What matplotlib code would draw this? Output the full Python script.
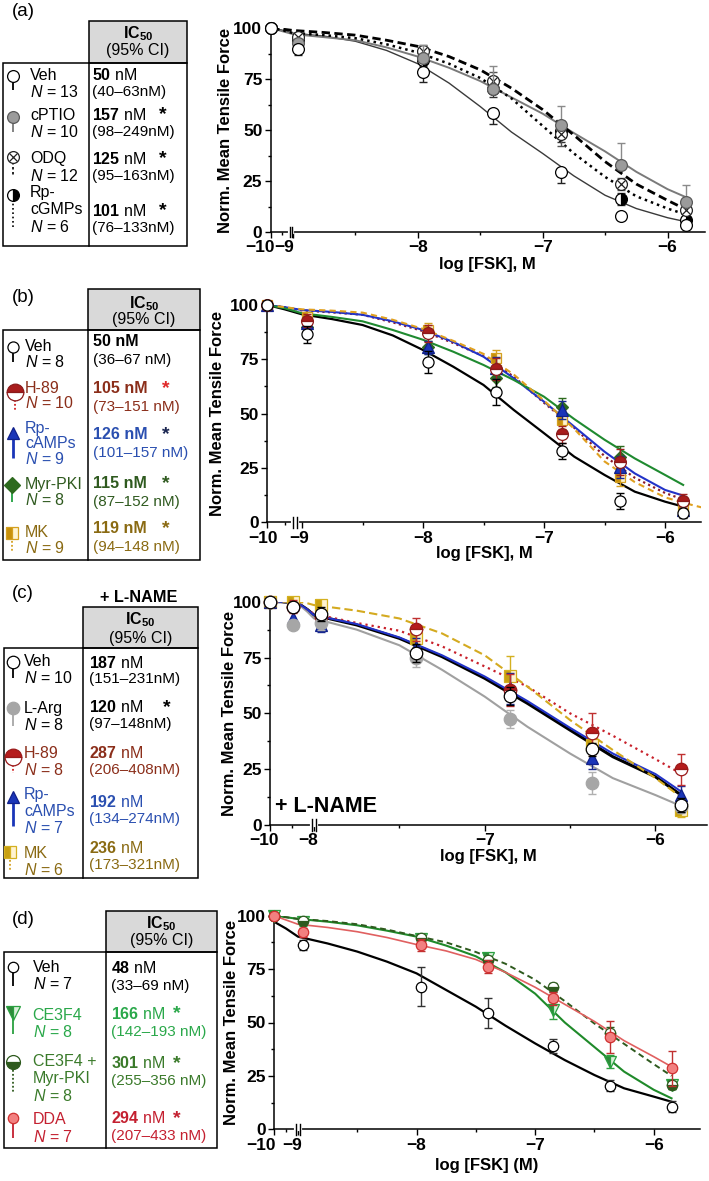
import numpy as np
import matplotlib
matplotlib.use("Agg")
import matplotlib.pyplot as plt
from matplotlib.patches import Rectangle
from matplotlib.transforms import ScaledTranslation

plt.rcParams.update({
    "font.family": ["Liberation Sans", "DejaVu Sans"],
    "mathtext.fontset": "custom",
    "mathtext.rm": "Liberation Sans",
    "mathtext.it": "Liberation Sans:italic",
    "mathtext.bf": "Liberation Sans:bold",
    "axes.unicode_minus": True,
})

W, H = 709, 1181
nan = np.nan

# log [FSK] of the measured points (first one is the 100 % reference)
X_PTS = [-10, -8.96, -7.96, -7.4, -6.85, -6.37, -5.85]

# ---------------- panel (a) ----------------
A_NAMES = ["Veh", "cPTIO", "ODQ", "Rp-\ncGMPs"]
A_N = [13, 10, 12, 6]
A_IC50 = [50, 157, 125, 101]
A_CI = [(40, 63), (98, 249), (95, 163), (76, 133)]
A_SIG = [False, True, True, True]
A_MEAN = [
    [100, 89.7, 78.3, 58.3, 29.4, 7.7, 3.3],
    [100, 92.6, 85.3, 70.0, 52.6, 33.0, 14.7],
    [100, 95.6, 88.6, 74.2, 48.2, 23.5, 10.6],
    [100, 93.5, 84.5, 70.0, 49.3, 16.3, 6.0],
]
A_SEM = [
    [0, 3, 5, 5.3, 5.4, 1.5, 1.5],
    [0, 2, 6.5, 11.5, 9, 10.5, 8.5],
    [0, 2, 3, 4, 6, 3, 2],
    [0, 2, 3, 4, 5, 3, 2],
]
A_ERRDIR = ["down", "up", "both", "both"]
A_CURVE_X = [-10, -9.5, -9, -8.75, -8.5, -8.25, -8, -7.75, -7.5, -7.25, -7, -6.75, -6.5,
             -6.25, -6, -5.85]
A_CURVES = [
    [100, 99, 97.5, 96, 93.5, 89, 82.5, 73, 61.5, 49, 38.5, 27.5, 18, 11.5, 7, 5],
    [100, 98.5, 97, 95.5, 94, 90.5, 86, 80.5, 74, 66, 58, 48.5, 39.5, 29.5, 21, 17],
    [100, 99.5, 98.8, 97.8, 96.5, 94, 91, 86, 79.5, 70.5, 60, 47.5, 34.5, 23.5, 15.5, 11],
    [100, 99, 97.5, 96.5, 95, 92, 88, 82.5, 75.5, 65.5, 52, 38.5, 27, 17.5, 11.5, 8.5],
]

# ---------------- panel (b) ----------------
B_NAMES = ["Veh", "H-89", "Rp-\ncAMPs", "Myr-PKI", "MK"]
B_N = [8, 10, 9, 8, 9]
B_IC50 = [50, 105, 126, 115, 119]
B_CI = [(36, 67), (73, 151), (101, 157), (87, 152), (94, 148)]
B_SIG = [False, True, True, True, True]
B_MEAN = [
    [100, 86.5, 73.9, 59.8, 32.8, 9.8, 4.1],
    [100, 92.8, 87.0, 70.6, 40.5, 27.6, 9.8],
    [100, 91.6, 80.5, 70.9, 51.7, 25.3, 5.7],
    [100, 90.0, 80.5, 66.3, 53.2, 30.0, 8.7],
    [100, 94.6, 88.5, 75.5, 47.0, 20.7, 7.2],
]
B_SEM = [
    [0, 4, 5, 6, 3.8, 3.8, 2],
    [0, 3, 4, 5, 4, 6, 3],
    [0, 3, 3, 5, 4, 5, 2],
    [0, 2, 3, 4, 4, 5, 3],
    [0, 2, 3, 4, 4, 4, 2],
]
B_ERRDIR = ["both"] * 5
B_CURVE_X = [-10, -9.5, -9, -8.75, -8.5, -8.25, -8, -7.75, -7.5, -7.25, -7, -6.75, -6.5,
             -6.25, -6, -5.85, -5.7]
B_CURVES = [
    [100, 98, 95.7, 93.5, 90.8, 86, 79.3, 71.6, 63.2, 51.7, 41, 30.2, 21.8, 14.1, 9.5, 7.2, nan],
    [100, 99, 97.5, 96.6, 95.5, 92, 88, 82.5, 76.5, 67, 55, 43.5, 30.5, 20.5, 13.5, 10.5, nan],
    [100, 99, 97.7, 96.8, 95.5, 92.5, 88.5, 83, 76.2, 66.3, 55.5, 44, 32.5, 22.5, 14.9, 12.3, nan],
    [100, 98.5, 96.2, 94.5, 92.5, 88.5, 84, 78.5, 72.4, 65.5, 57.8, 47.5, 38, 29.4, 21.8, 17.2, nan],
    [100, 99, 98, 97.4, 96.5, 93.2, 89, 83.5, 77.5, 68, 56, 43, 28, 18.5, 11.5, 9, 6.9],
]

# ---------------- panel (c) ----------------
C_NAMES = ["Veh", "L-Arg", "H-89", "Rp-\ncAMPs", "MK"]
C_N = [10, 8, 8, 7, 6]
C_IC50 = [187, 120, 287, 192, 236]
C_CI = [(151, 231), (97, 148), (206, 408), (134, 274), (173, 321)]
C_SIG = [False, True, False, False, False]
C_MEAN = [
    [100, 97.8, 94.5, 77.2, 57.8, 33.9, 9.0],
    [100, 89.6, 90.3, 74.6, 47.3, 18.7, 8.2],
    [100, 97.8, 93.3, 87.6, 60.4, 41.0, 25.0],
    [100, 92.5, 89.6, 79.9, 61.2, 29.9, 13.4],
    [100, 100, 98.5, 83.6, 66.7, 35.8, 6.7],
]
C_SEM = [
    [0, 2, 3, 4, 4, 3, 3],
    [0, 2, 3, 4, 4, 5, 3],
    [0, 3, 3, 5, 7, 9, 7],
    [0, 3, 3, 4, 7, 5, 4],
    [0, 2, 2, 4, 9, 4, 3],
]
C_ERRDIR = ["both"] * 5
C_CURVE_X = [-10, -9.5, -9, -8.6, -8.3, -8, -7.75, -7.5, -7.25, -7, -6.75, -6.5, -6.25, -6, -5.85]
C_CURVES = [
    [100, 100, 99.5, 98.5, 96.5, 94, 89.6, 83.6, 75.4, 65.7, 54.5, 42.5, 30.6, 21.6, 13.4],
    [100, 100, 99.5, 98, 95.5, 92.5, 87.5, 80.5, 69.5, 57.5, 44, 32, 21, 13.4, 8.5],
    [100, 100, 99.5, 98.5, 96.5, 94.5, 90.5, 87, 80, 71, 62, 50, 40, 29.5, 23],
    [100, 100, 99.5, 98.5, 96.5, 94, 90, 84, 76, 66.5, 55.5, 43.5, 32, 22.8, 15],
    [100, 100, 100, 99.8, 99.3, 98.5, 96, 92.5, 85.8, 76, 62, 47, 33.6, 21, 12.5],
]

# ---------------- panel (d) ----------------
D_NAMES = ["Veh", "CE3F4", "CE3F4 +\nMyr-PKI", "DDA"]
D_N = [7, 8, 8, 7]
D_IC50 = [48, 166, 301, 294]
D_CI = [(33, 69), (142, 193), (255, 356), (207, 433)]
D_SIG = [False, True, True, True]
D_MEAN = [
    [100, 86.3, 66.8, 54.3, 39.0, 20.4, 10.6],
    [100, 96.9, 88.9, 80.0, 55.8, 31.7, 20.7],
    [100, 97.5, 89.4, 79.2, 66.5, 44.9, 20.7],
    [100, 92.2, 86.3, 76.1, 61.3, 43.4, 28.5],
]
D_SEM = [
    [0, 2.5, 9, 7, 3.5, 2.5, 2.5],
    [0, 1.5, 2, 2, 4, 3, 2],
    [0, 1.5, 2, 2, 2, 3, 2],
    [0, 2, 3, 3, 3, 7.5, 8],
]
D_ERRDIR = ["both"] * 4
D_CURVE_X = [-10, -9.5, -9, -8.75, -8.5, -8.25, -8, -7.75, -7.5, -7.25, -7, -6.75, -6.5,
             -6.25, -6, -5.85]
D_CURVES = [
    [97.2, 94, 90.2, 87, 83.2, 78.5, 73, 65.2, 57.4, 48.5, 40.2, 32.4, 25.4, 19.2, 15.3, 12.9],
    [100, 99.3, 98.5, 97.2, 95.5, 93, 90.2, 86, 81, 73.5, 63.5, 50, 38.5, 27, 18.5, 14.5],
    [100, 99.3, 98.5, 97.5, 96, 93.5, 90.5, 87.5, 83, 77.5, 70, 60, 49.5, 40, 30.5, 25],
    [100, 98, 96, 94.5, 92.5, 89.8, 86.5, 83.5, 79.5, 73.5, 66.5, 58.5, 50.5, 41.5, 34, 29.3],
]

# ---------------- styles ----------------
DOT = (0, (1, 1.6))
A_STYLES = [
    dict(m="o", ms=8.5, mfc="white", mec="black", lc="#3a3a3a", ls="-", lw=1.0, ec="#222", gc="black"),
    dict(m="o", ms=8.5, mfc="#9b9b9b", mec="#5a5a5a", lc="#7a7a7a", ls="-", lw=1.4, ec="#8a8a8a",
         gc="#7a7a7a"),
    dict(m="o", ms=8.5, mfc="white", mec="#222", ov=("x", 5.5, "#222"), lc="black",
         ls=(0, (3, 1.6)), lw=2.0, ec="#555", gls=(0, (1.5, 1.5)), glw=1.2, gc="black"),
    dict(m="o", ms=8.5, mfc="black", alt="white", fs="right", mec="black", lc="black",
         ls=DOT, lw=1.8, ec="#333", glw=1.2, gc="black"),
]
B_STYLES = [
    dict(m="o", ms=8, mfc="white", mec="black", lc="black", ls="-", lw=1.6, ec="black", gc="black"),
    dict(m="o", ms=8.5, fs="top", mfc="#a81c1c", alt="white", mec="#8b1a1a", lc="#8b1a2a",
         ls=(0, (1, 1.5)), lw=1.6, ec="#a02020", gc="#d02020", gms=12, gls=(0, (1, 1.2))),
    dict(m="^", ms=8, mfc="#1a35b8", mec="#10208a", lc="#2233c8", ls="-", lw=1.5,
         ec="#1a2a90", gc="#1a35b8", glw=2.0, gms=9),
    dict(m="D", ms=6.5, mfc="#2d6a1e", mec="#2d6a1e", lc="#1f8a30", ls="-", lw=1.5,
         ec="#2d6a1e", gc="#20a040", gms=8),
    dict(m="s", ms=7.5, fs="left", mfc="#c8900a", alt="#fff3d0", mec="#d4a020", lc="#e0a020",
         ls=(0, (3, 2)), lw=1.5, ec="#d4a020", gc="#d4a020", gls=(0, (1, 1.2)), gms=8),
]
C_STYLES = [
    dict(m="o", ms=9, mfc="white", mec="black", lc="black", ls="-", lw=2.2, ec="black",
         gc="black", glw=1.3),
    dict(m="o", ms=9, mfc="#a6a6a6", mec="#a6a6a6", lc="#a0a0a0", ls="-", lw=1.5, ec="#b0b0b0",
         gc="#a6a6a6"),
    dict(m="o", ms=9, fs="top", mfc="#b51c1c", alt="white", mec="#9a1a1a", lc="#c8202a",
         ls=(0, (1, 1.8)), lw=1.6, ec="#c03030", gc="#d02020", gms=12, gls=(0, (1, 1.2))),
    dict(m="^", ms=8.5, mfc="#1a35b8", mec="#10208a", lc="#2233c8", ls="-", lw=1.5,
         ec="#1a2a90", gc="#1a35b8", glw=2.0, gms=9),
    dict(m="s", ms=8, fs="left", mfc="#c8a010", alt="#fff3d0", mec="#d4b020", lc="#d4aa20",
         ls=(0, (4, 2)), lw=1.5, ec="#d4b020", gc="#d4a020", gls=(0, (1, 1.2)), gms=8),
]
D_STYLES = [
    dict(m="o", ms=7.5, mfc="white", mec="black", lc="black", ls="-", lw=1.6, ec="#333", gc="black"),
    dict(m="v", ms=8, fs="left", mfc="#2f8a3a", alt="#d9f0d9", mec="#2aa040", lc="#1f8a2a",
         ls="-", lw=1.5, ec="#30a040", gc="#2aa040", gms=10),
    dict(m="o", ms=7.5, fs="bottom", mfc="#2e5a1e", alt="white", mec="#2e5a1e", lc="#2e5a1e",
         ls=(0, (3, 2)), lw=1.4, ec="#2e5a1e", gc="#2e5a1e", gls=(0, (1, 1.2)), gms=10),
    dict(m="o", ms=7.5, mfc="#f28080", mec="#d03030", lc="#e06060", ls="-", lw=1.2,
         ec="#c03030", gc="#c42030"),
]

A_COLORS = ["black"] * 4
A_STARS = ["black"] * 4
B_COLORS = ["black", "#8b2e1a", "#2a4fb0", "#2f5a1f", "#8a6a12"]
B_STARS = ["black", "#e02828", "#1a2550", "#2f5a1f", "#8a6a12"]
C_COLORS = ["black", "black", "#8b2e1a", "#2a4fb0", "#8a6a12"]
C_STARS = C_COLORS
D_COLORS = ["black", "#2aa84a", "#3a7a2a", "#c42030"]
D_STARS = D_COLORS


def marker_kw(st, size=None):
    return dict(marker=st["m"], ms=size or st["ms"], mfc=st["mfc"], mec=st["mec"],
                mew=st.get("mew", 0.9), fillstyle=st.get("fs", "full"),
                markerfacecoloralt=st.get("alt", "none"))


def broken_scale(brk, k):
    def fwd(x):
        x = np.asarray(x, dtype=float)
        return np.where(x < brk, brk + (x - brk) * k, x)

    def inv(t):
        t = np.asarray(t, dtype=float)
        return np.where(t < brk, brk + (t - brk) / k, t)
    return fwd, inv


fig = plt.figure(figsize=(W / 100, H / 100), dpi=100)
lay = fig.add_axes([0, 0, 1, 1])
lay.set_xlim(0, W)
lay.set_ylim(H, 0)
lay.axis("off")


def draw_table(L, names, ns, ic50, ci, sig, colors, stars, styles):
    hx0, hy0, hx1, hy1 = L["head"]
    bx0, by1 = L["body"]
    lay.add_patch(Rectangle((hx0, hy0), hx1 - hx0, hy1 - hy0, facecolor="#d9d9d9",
                            edgecolor="black", lw=1.1))
    lay.add_patch(Rectangle((bx0, hy1), hx1 - bx0, by1 - hy1, facecolor="none",
                            edgecolor="black", lw=1.1))
    lay.plot([hx0, hx0], [hy1, by1], color="black", lw=1.1)
    cx = (hx0 + hx1) / 2
    lay.text(cx, L["hdr_y"][0], r"$\mathbf{IC_{50}}$", fontsize=11.5, ha="center", va="center")
    lay.text(cx, L["hdr_y"][1], "(95% CI)", fontsize=11.5, ha="center", va="center")
    lay.text(*L["tag_xy"], L["tag"], fontsize=13.5, ha="center", va="center")
    for i, name in enumerate(names):
        lines = name.split("\n") + [f"$N$ = {ns[i]}"]
        for j, line in enumerate(lines):
            lay.text(L["name_x"], L["name_y"][i] + j * L["name_dy"], line, color=colors[i],
                     fontsize=11.5, ha="left", va="center")
        if L["all_bold"]:
            lay.text(L["ic_x"], L["ic_y"][i], f"{ic50[i]} nM", color=colors[i],
                     fontsize=11.5, fontweight="bold", ha="left", va="center")
        else:
            lay.text(L["ic_x"], L["ic_y"][i], rf"$\mathbf{{{ic50[i]}}}$ nM", color=colors[i],
                     fontsize=11.5, ha="left", va="center")
        lay.text(L["ic_x"], L["ic_y"][i] + L["ci_dy"], L["ci_fmt"].format(*ci[i]),
                 color=colors[i], fontsize=11, ha="left", va="center")
        if sig[i]:
            lay.text(L["star_x"], L["ic_y"][i], "*", color=stars[i], fontsize=14,
                     fontweight="bold", ha="left", va="center")
        st = styles[i]
        gx, gy, ge = L["glyph_x"][i], L["glyph_y"][i], L["stem_end"][i]
        lay.plot([gx, gx], [gy, ge], color=st["gc"], ls=st.get("gls", st["ls"]),
                 lw=st.get("glw", 1.3), solid_capstyle="butt")
        lay.plot([gx], [gy], ls="none", **marker_kw(st, st.get("gms")))
        if st.get("ov"):
            m, s, c = st["ov"]
            lay.plot([gx], [gy], ls="none", marker=m, ms=s, color=c, mew=0.9)


def draw_plot(P, means, sems, dirs, curve_x, curves, styles):
    l, t, r, b = P["box"]
    ax = fig.add_axes([l / W, 1 - b / H, (r - l) / W, (b - t) / H])
    fwd, inv = broken_scale(P["brk"], P["k"])
    ax.set_xscale("function", functions=(fwd, inv))
    for cy, st in zip(curves, styles):
        ax.plot(curve_x, cy, color=st["lc"], ls=st["ls"], lw=st["lw"], zorder=2)
    z = 3
    for i in P["order"]:
        st = styles[i]
        lo = [e if dirs[i] in ("both", "down") else 0 for e in sems[i]]
        hi = [e if dirs[i] in ("both", "up") else 0 for e in sems[i]]
        ax.errorbar(X_PTS, means[i], yerr=[lo, hi], fmt="none", ecolor=st["ec"],
                    elinewidth=1, capsize=3, capthick=1, zorder=z, clip_on=False)
        ax.plot(X_PTS, means[i], ls="none", zorder=z + 0.5, clip_on=False, **marker_kw(st))
        if st.get("ov"):
            m, s, c = st["ov"]
            ax.plot(X_PTS, means[i], ls="none", marker=m, ms=s, color=c, mew=0.9,
                    zorder=z + 0.6, clip_on=False)
        z += 1
    ax.set_xlim(-10, P["xmax"])
    ax.set_ylim(0, 100)
    ax.set_xticks(P["major"])
    ax.set_xticklabels([str(v).replace("-", "\u2212") for v in P["major"]], fontweight="bold")
    ax.set_xticks(P["minor"], minor=True)
    ax.set_yticks([0, 25, 50, 75, 100])
    ax.set_yticklabels(["0", "25", "50", "75", "100"], fontweight="bold")
    ax.set_yticks([12.5, 37.5, 62.5, 87.5], minor=True)
    ax.tick_params(which="major", length=4, width=1, labelsize=12.5, pad=2)
    ax.tick_params(which="minor", length=2.5, width=1)
    # Prism-style: the crowded labels near the axis break sit a bit to the left
    for lab, dx in zip(ax.get_xticklabels(), P["tick_dx"]):
        lab.set_transform(lab.get_transform() + ScaledTranslation(dx / 100, 0, fig.dpi_scale_trans))
    for s in ("top", "right"):
        ax.spines[s].set_visible(False)
    for s in ("left", "bottom"):
        ax.spines[s].set_linewidth(1.1)
    ax.patch.set_alpha(0)
    ax.set_ylabel("Norm. Mean Tensile Force", fontsize=12, fontweight="bold")
    ax.yaxis.set_label_coords((P["ylab_px"] - l) / (r - l), 0.5)
    ax.set_xlabel(P["xlabel"], fontsize=12, fontweight="bold")
    ax.xaxis.set_label_coords(0.5, -P["xlab_off"] / (b - t))
    tr = ax.get_xaxis_transform()
    ax.plot(P["breaks"], [0, 0], color="white", lw=3, transform=tr, clip_on=False, zorder=20)
    for bx in P["breaks"]:
        ax.plot([bx, bx], [-0.025, 0.025], color="black", lw=1, transform=tr,
                clip_on=False, zorder=21)
    return ax


# ---------------- layouts (pixel coordinates) ----------------
A_TAB = dict(tag="(a)", tag_xy=(23, 11), head=(89.3, 20.7, 186.7, 62.7), body=(3.3, 246),
             hdr_y=(33.3, 50), name_x=30, name_y=[75, 115, 159, 193], name_dy=17,
             ic_x=91.7, ic_y=[75, 115, 159, 211], ci_dy=17, star_x=159.3, all_bold=False,
             ci_fmt="({}–{}nM)", glyph_x=[13.3] * 4, glyph_y=[76, 117, 157, 195],
             stem_end=[90, 132, 176, 228])
B_TAB = dict(tag="(b)", tag_xy=(23, 298), head=(87.7, 289, 200, 330), body=(2.7, 560),
             hdr_y=(303.3, 319.3), name_x=25, name_y=[346.7, 388.3, 428.5, 485, 532.7],
             name_dy=15, ic_x=93.3, ic_y=[341.7, 388.3, 434.3, 483.3, 528.3], ci_dy=18.5,
             star_x=162, all_bold=True, ci_fmt="({}–{} nM)",
             glyph_x=[13, 15, 13, 12, 12], glyph_y=[347, 392, 433, 485, 533],
             stem_end=[362, 410, 458, 502, 551])
C_TAB = dict(tag="(c)", tag_xy=(23, 594), head=(82.7, 607, 198.3, 648), body=(4, 878),
             hdr_y=(620, 638), name_x=24, name_y=[661.7, 708.3, 753.3, 795, 853.3],
             name_dy=16.5, ic_x=89.3, ic_y=[662.7, 707.3, 753.3, 801.7, 848.3], ci_dy=16.8,
             star_x=162.7, all_bold=False, ci_fmt="({}–{}nM)",
             glyph_x=[13, 13, 13, 13, 10], glyph_y=[662, 708, 757, 797, 852],
             stem_end=[678, 726, 773, 826, 870])
D_TAB = dict(tag="(d)", tag_xy=(23, 920), head=(106, 910.7, 216.7, 951.7), body=(4, 1148.3),
             hdr_y=(923.3, 940.7), name_x=32.7, name_y=[967.3, 1015, 1061.7, 1120],
             name_dy=17, ic_x=110.7, ic_y=[968.3, 1014, 1063.3, 1118.3], ci_dy=17.7,
             star_x=173.3, all_bold=False, ci_fmt="({}–{} nM)",
             glyph_x=[13] * 4, glyph_y=[967, 1013, 1062, 1118], stem_end=[986, 1034, 1092, 1138])

A_PLOT = dict(box=(270.7, 28, 705, 232), brk=-9, k=0.178, xmax=-5.7,
              major=[-10, -9, -8, -7, -6], minor=[-9.5, -8.5, -7.5, -6.5],
              tick_dx=[-11, -8.5, 0, 0, 0],
              breaks=[-9.14, -9.03], order=[3, 2, 1, 0], ylab_px=233.5,
              xlabel="log [FSK], M", xlab_off=25)
B_PLOT = dict(box=(267.3, 305, 700.7, 522.3), brk=-9, k=0.287, xmax=-5.705,
              major=[-10, -9, -8, -7, -6], minor=[-9.5, -8.5, -7.5, -6.5],
              tick_dx=[-4, -3, 0, 0, 0],
              breaks=[-9.25, -9.15], order=[4, 3, 2, 1, 0], ylab_px=225,
              xlabel="log [FSK], M", xlab_off=24)
C_PLOT = dict(box=(270, 601.7, 706.7, 825), brk=-8, k=0.1287, xmax=-5.70,
              major=[-10, -8, -7, -6], minor=[-9, -7.5, -6.5],
              tick_dx=[-6, -6, 0, 0],
              breaks=[-8.1, -7.99], order=[4, 3, 2, 1, 0], ylab_px=236.8,
              xlabel="log [FSK], M", xlab_off=24)
D_PLOT = dict(box=(274, 915.7, 700, 1129.3), brk=-9, k=0.202, xmax=-5.61,
              major=[-10, -9, -8, -7, -6], minor=[-9.5, -8.5, -7.5, -6.5],
              tick_dx=[-12.5, -6, 0, 0, 0],
              breaks=[-9.1, -8.985], order=[0, 1, 2, 3], ylab_px=238.5,
              xlabel="log [FSK] (M)", xlab_off=29)

draw_table(A_TAB, A_NAMES, A_N, A_IC50, A_CI, A_SIG, A_COLORS, A_STARS, A_STYLES)
draw_table(B_TAB, B_NAMES, B_N, B_IC50, B_CI, B_SIG, B_COLORS, B_STARS, B_STYLES)
draw_table(C_TAB, C_NAMES, C_N, C_IC50, C_CI, C_SIG, C_COLORS, C_STARS, C_STYLES)
draw_table(D_TAB, D_NAMES, D_N, D_IC50, D_CI, D_SIG, D_COLORS, D_STARS, D_STYLES)
lay.text(138.5, 598, "+ L-NAME", fontsize=11.7, fontweight="bold", ha="center", va="center")

draw_plot(A_PLOT, A_MEAN, A_SEM, A_ERRDIR, A_CURVE_X, A_CURVES, A_STYLES)
draw_plot(B_PLOT, B_MEAN, B_SEM, B_ERRDIR, B_CURVE_X, B_CURVES, B_STYLES)
axc = draw_plot(C_PLOT, C_MEAN, C_SEM, C_ERRDIR, C_CURVE_X, C_CURVES, C_STYLES)
axc.text(0.011, 0.082, "+ L-NAME", transform=axc.transAxes, fontsize=15.5,
         fontweight="bold", ha="left", va="center", zorder=30)
draw_plot(D_PLOT, D_MEAN, D_SEM, D_ERRDIR, D_CURVE_X, D_CURVES, D_STYLES)

fig.savefig("out.png", dpi=100)
